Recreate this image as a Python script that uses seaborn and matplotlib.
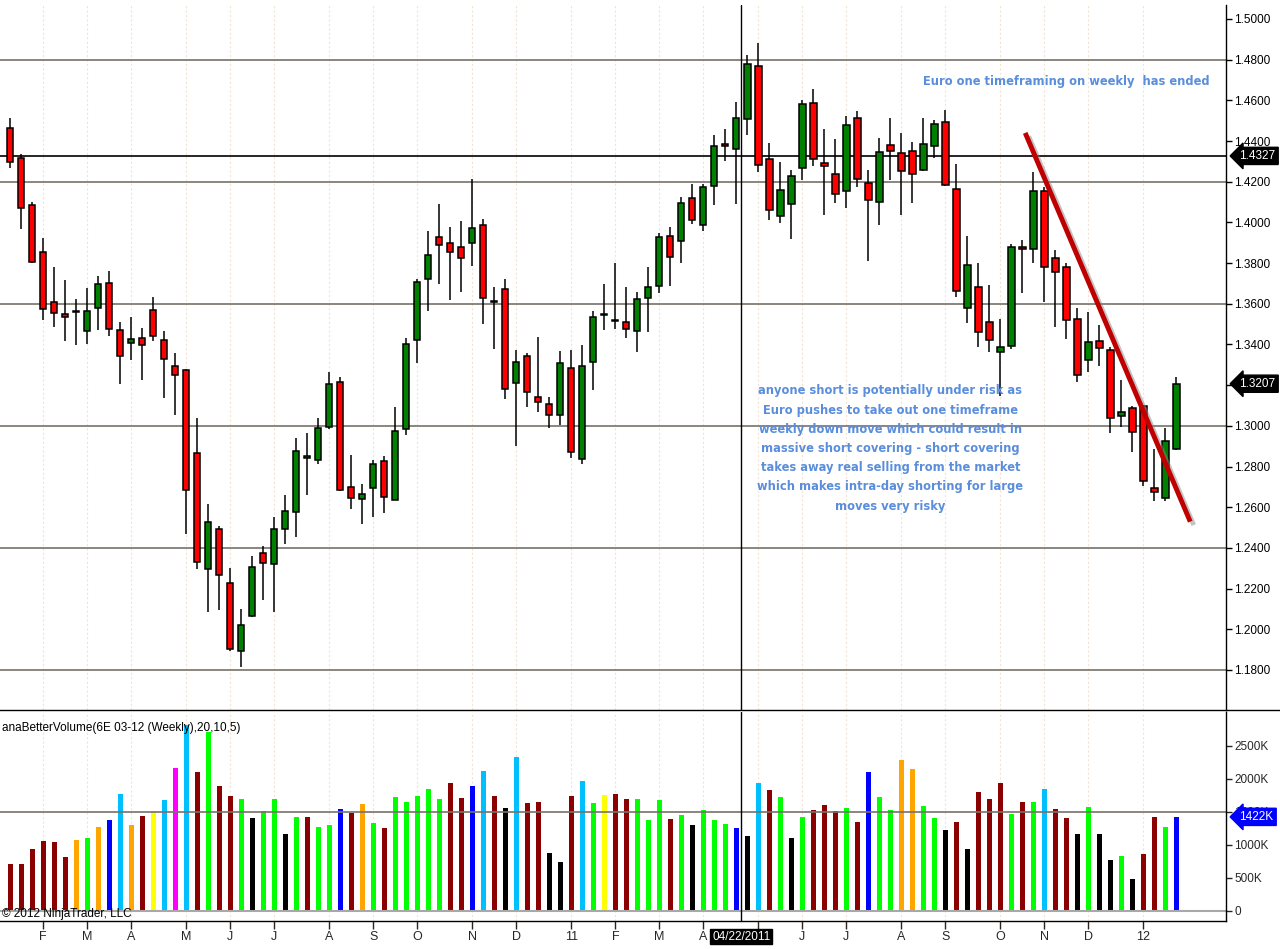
import numpy as np
import pandas as pd
import matplotlib
matplotlib.use('Agg')
import matplotlib.pyplot as plt
import matplotlib.patheffects as pe
import matplotlib.transforms as mtransforms
from matplotlib.lines import Line2D
import seaborn as sns

# weekly 6E bars, Jan 2010 - Jan 2012
opens = [1.4462, 1.4315, 1.4084, 1.3853, 1.3608, 1.3550, 1.3563, 1.3466, 1.3579, 1.3701,
         1.3470, 1.3406, 1.3432, 1.3568, 1.3421, 1.3293, 1.3274, 1.2866, 1.2296, 1.2493,
         1.2226, 1.1891, 1.2063, 1.2373, 1.2319, 1.2491, 1.2576, 1.2842, 1.2830, 1.2993,
         1.3214, 1.2698, 1.2639, 1.2696, 1.2825, 1.2637, 1.2984, 1.3420, 1.3720, 1.3927,
         1.3897, 1.3877, 1.3897, 1.3986, 1.3610, 1.3671, 1.3209, 1.3342, 1.3140, 1.3106,
         1.3052, 1.3283, 1.2835, 1.3312, 1.3545, 1.3516, 1.3509, 1.3465, 1.3627, 1.3686,
         1.3932, 1.3907, 1.4118, 1.3986, 1.4179, 1.4387, 1.4359, 1.4507, 1.4769, 1.4312,
         1.4030, 1.4091, 1.4266, 1.4587, 1.4290, 1.4236, 1.4153, 1.4512, 1.4192, 1.4099,
         1.4379, 1.4340, 1.4349, 1.4256, 1.4374, 1.4492, 1.4163, 1.3578, 1.3681, 1.3509,
         1.3361, 1.3391, 1.3878, 1.3868, 1.4153, 1.3823, 1.3779, 1.3527, 1.3324, 1.3415,
         1.3371, 1.3048, 1.3086, 1.3096, 1.2696, 1.2645, 1.2884]
highs = [1.4515, 1.4335, 1.4099, 1.3924, 1.3782, 1.3717, 1.3624, 1.3679, 1.3737, 1.3762,
         1.3512, 1.3535, 1.3482, 1.3633, 1.3466, 1.3359, 1.3280, 1.3039, 1.2617, 1.2509,
         1.2301, 1.2099, 1.2360, 1.2409, 1.2550, 1.2660, 1.2940, 1.2965, 1.3039, 1.3265,
         1.3238, 1.2857, 1.2714, 1.2832, 1.2852, 1.3093, 1.3430, 1.3722, 1.3958, 1.4090,
         1.3977, 1.4007, 1.4212, 1.4015, 1.3682, 1.3722, 1.3373, 1.3358, 1.3437, 1.3142,
         1.3368, 1.3373, 1.3397, 1.3564, 1.3697, 1.3800, 1.3682, 1.3658, 1.3781, 1.3948,
         1.3977, 1.4125, 1.4189, 1.4189, 1.4428, 1.4459, 1.4592, 1.4825, 1.4882, 1.4389,
         1.4297, 1.4258, 1.4602, 1.4656, 1.4459, 1.4410, 1.4523, 1.4548, 1.4256, 1.4415,
         1.4513, 1.4440, 1.4395, 1.4513, 1.4504, 1.4551, 1.4286, 1.3932, 1.3799, 1.3691,
         1.3524, 1.3892, 1.3912, 1.4250, 1.4176, 1.3864, 1.3799, 1.3578, 1.3558, 1.3494,
         1.3386, 1.3225, 1.3096, 1.3100, 1.2884, 1.2988, 1.3240]
lows = [1.4269, 1.3966, 1.3799, 1.3522, 1.3488, 1.3419, 1.3395, 1.3401, 1.3473, 1.3444,
        1.3204, 1.3326, 1.3223, 1.3415, 1.3139, 1.3055, 1.2467, 1.2294, 1.2083, 1.2096,
        1.1895, 1.1816, 1.2058, 1.2145, 1.2086, 1.2417, 1.2455, 1.2662, 1.2811, 1.2986,
        1.2680, 1.2593, 1.2519, 1.2553, 1.2573, 1.2634, 1.2957, 1.3310, 1.3566, 1.3699,
        1.3620, 1.3659, 1.3787, 1.3502, 1.3379, 1.3134, 1.2902, 1.3094, 1.3070, 1.2991,
        1.3006, 1.2840, 1.2811, 1.3174, 1.3473, 1.3478, 1.3433, 1.3365, 1.3463, 1.3651,
        1.3689, 1.3802, 1.3994, 1.3956, 1.4087, 1.4304, 1.4092, 1.4431, 1.4249, 1.4013,
        1.3996, 1.3920, 1.4210, 1.4279, 1.4038, 1.4094, 1.4069, 1.4176, 1.3812, 1.3989,
        1.4210, 1.4038, 1.4097, 1.4251, 1.4318, 1.4180, 1.3632, 1.3507, 1.3386, 1.3365,
        1.3145, 1.3376, 1.3651, 1.3799, 1.3610, 1.3487, 1.3425, 1.3217, 1.3266, 1.3293,
        1.2963, 1.2993, 1.2870, 1.2703, 1.2629, 1.2629, 1.2880]
closes = [1.4297, 1.4070, 1.3806, 1.3573, 1.3553, 1.3535, 1.3561, 1.3564, 1.3697, 1.3475,
          1.3344, 1.3426, 1.3397, 1.3441, 1.3328, 1.3250, 1.2685, 1.2330, 1.2528, 1.2265,
          1.1905, 1.2019, 1.2304, 1.2324, 1.2491, 1.2580, 1.2875, 1.2850, 1.2988, 1.3204,
          1.2683, 1.2644, 1.2663, 1.2812, 1.2649, 1.2973, 1.3401, 1.3705, 1.3838, 1.3887,
          1.3853, 1.3823, 1.3971, 1.3628, 1.3608, 1.3179, 1.3312, 1.3165, 1.3116, 1.3052,
          1.3307, 1.2870, 1.3292, 1.3533, 1.3547, 1.3514, 1.3474, 1.3622, 1.3681, 1.3927,
          1.3828, 1.4094, 1.4010, 1.4172, 1.4374, 1.4374, 1.4512, 1.4779, 1.4281, 1.4059,
          1.4158, 1.4228, 1.4582, 1.4312, 1.4277, 1.4138, 1.4477, 1.4212, 1.4109, 1.4345,
          1.4349, 1.4251, 1.4236, 1.4384, 1.4482, 1.4182, 1.3661, 1.3789, 1.3460, 1.3420,
          1.3386, 1.3878, 1.3868, 1.4153, 1.3779, 1.3755, 1.3519, 1.3248, 1.3411, 1.3381,
          1.3039, 1.3070, 1.2968, 1.2727, 1.2673, 1.2924, 1.3207]

# volume in thousands and the anaBetterVolume colour class of each bar
volume_k = [707, 707, 934, 1056, 1040, 813, 1071, 1101, 1268, 1374,
            1768, 1298, 1434, 1510, 1677, 2162, 2820, 2101, 2712, 1889,
            1737, 1692, 1404, 1510, 1692, 1162, 1419, 1419, 1268, 1298,
            1540, 1480, 1616, 1328, 1253, 1722, 1646, 1737, 1843, 1692,
            1934, 1707, 1889, 2116, 1737, 1556, 2328, 1631, 1646, 874,
            737, 1737, 1965, 1631, 1753, 1768, 1692, 1692, 1374, 1677,
            1389, 1449, 1298, 1525, 1374, 1313, 1253, 1131, 1934, 1828,
            1722, 1101, 1419, 1525, 1601, 1510, 1556, 1343, 2101, 1722,
            1525, 2283, 2146, 1586, 1404, 1222, 1343, 934, 1798, 1692,
            1934, 1465, 1646, 1646, 1843, 1540, 1404, 1162, 1571, 1162,
            768, 828, 480, 859, 1419, 1268, 1422]
volume_class = list('rrrrrrogobcorycmcrgr'
                    'rgkggkgrggbrogrggggg'
                    'rrbcrkcrrkkrcgyrrggg'
                    'rgkgggbkcrgkgrrrgrbg'
                    'googgkrkrrrgrgcrrkgk'
                    'kgkrrgb')
vol_palette = {'r': '#8B0000', 'g': '#00FF00', 'k': '#000000', 'b': '#0000FF',
               'c': '#00BFFF', 'o': '#FFA500', 'y': '#FFFF00', 'm': '#FF00FF'}

price_grid = [1.48, 1.42, 1.36, 1.30, 1.24, 1.18]
marker_level = 1.4327
cursor_date = '2011-04-22'
trend_x = [92.25, 107.25]
trend_y = [1.4440, 1.2529]

note_top = 'Euro one timeframing on weekly  has ended'
note_main = ('anyone short is potentially under risk as\n'
             'Euro pushes to take out one timeframe\n'
             'weekly down move which could result in\n'
             'massive short covering - short covering\n'
             'takes away real selling from the market\n'
             'which makes intra-day shorting for large\n'
             'moves very risky')

print(len(opens), len(highs), len(lows), len(closes), len(volume_k), len(volume_class))

weeks = pd.date_range('2010-01-15', periods=len(closes), freq='W-FRI')
df = pd.DataFrame({'week': np.arange(len(closes)), 'open': opens, 'high': highs,
                   'low': lows, 'close': closes, 'vol': volume_k, 'cls': volume_class})

month_pos = [i for i in range(1, len(weeks)) if weeks[i].month != weeks[i - 1].month]
month_lab = [(weeks[i].strftime('%y') if weeks[i].month == 1 else weeks[i].strftime('%b')[0])
             for i in month_pos]

sns.set_style('white')
plt.rcParams['font.family'] = ['Liberation Sans', 'DejaVu Sans']

W, H = 1280, 949
fig = plt.figure(figsize=(12.8, 9.49), dpi=100)
ax = fig.add_axes([0, 1 - 710 / H, 1226 / W, 705 / H])
axv = fig.add_axes([0, 1 - 921 / H, 1226 / W, 209 / H])

xlim = (-0.936, 110.5)

# price panel
for p in month_pos:
    ax.axvline(p, color='#F1E4D6', lw=0.8, ls=(0, (2, 2)), zorder=0)
    axv.axvline(p, color='#F1E4D6', lw=0.8, ls=(0, (2, 2)), zorder=0)
for lv in price_grid:
    ax.axhline(lv, color='#77716A', lw=1.2, zorder=1)
ax.axhline(marker_level, color='black', lw=1.2, zorder=1)

up = df['close'] >= df['open']
body_bottom = df[['open', 'close']].min(axis=1)
body_h = (df['close'] - df['open']).abs().clip(lower=0.0004)
ax.vlines(df['week'], df['low'], df['high'], color='black', lw=1.1, zorder=3)
ax.bar(df['week'], body_h, bottom=body_bottom, width=0.56,
       color=np.where(up, '#008000', '#FF0000'), edgecolor='black', linewidth=1.1, zorder=4)

ax.plot(trend_x, trend_y, color='#C00000', lw=3.5, solid_capstyle='butt', zorder=6,
        path_effects=[pe.SimpleLineShadow(offset=(2.5, -2.5), shadow_color='#888888', alpha=0.5),
                      pe.Normal()])

note_font = dict(family=['DejaVu Sans'], fontweight='bold', color='#5A8EDC', fontsize=8.3)
ax.text(96.0, 1.4695, note_top, ha='center', va='center', zorder=7, **note_font)
ax.text(80.0, 1.2889, note_main, ha='center', va='center', linespacing=1.62, zorder=7, **note_font)

ax.set_xlim(*xlim)
ax.set_ylim(1.1603, 1.50688)
ax.yaxis.tick_right()
ax.set_yticks(np.arange(1.18, 1.5001, 0.02))
ax.set_yticklabels(['%.4f' % v for v in np.arange(1.18, 1.5001, 0.02)])
ax.tick_params(axis='y', direction='out', length=4, width=1, labelsize=8.5, pad=2,
               colors='black', right=True)
ax.tick_params(axis='x', bottom=False, labelbottom=False)
for s in ['left', 'top']:
    ax.spines[s].set_visible(False)
for s in ['right', 'bottom']:
    ax.spines[s].set_color('black')
    ax.spines[s].set_linewidth(1)

ytf = mtransforms.blended_transform_factory(ax.transAxes, ax.transData)
for val in [marker_level, closes[-1]]:
    ax.text(1.011, val, '%.4f' % val, transform=ytf, ha='left', va='center', color='white',
            fontsize=8.5, clip_on=False, zorder=10,
            bbox=dict(boxstyle='larrow,pad=0.22', fc='black', ec='black'))

# volume panel
sns.barplot(data=df, x='week', y='vol', hue='cls', palette=vol_palette, native_scale=True,
            width=0.43, errorbar=None, legend=False, saturation=1, linewidth=0,
            orient='x', ax=axv)
axv.axhline(0, color='#A8A8A8', lw=1.5, zorder=1)
axv.axhline(1500, color='#77716A', lw=1.2, zorder=1)
axv.set_xlim(*xlim)
axv.set_ylim(-156, 3011)
axv.set_xlabel('')
axv.set_ylabel('')
axv.yaxis.tick_right()
axv.set_yticks([0, 500, 1000, 1500, 2000, 2500])
axv.set_yticklabels(['0', '500K', '1000K', '1500K', '2000K', '2500K'])
axv.tick_params(axis='y', direction='out', length=4, width=1, labelsize=8.5, pad=2, right=True)
axv.set_xticks(month_pos)
axv.set_xticklabels(month_lab)
axv.tick_params(axis='x', direction='out', length=6, width=1, labelsize=9, pad=1, bottom=True)
for s in ['left', 'top']:
    axv.spines[s].set_visible(False)
for s in ['right', 'bottom']:
    axv.spines[s].set_color('black')
    axv.spines[s].set_linewidth(1)

vtf = mtransforms.blended_transform_factory(axv.transAxes, axv.transData)
axv.text(1.011, volume_k[-1], '%dK' % volume_k[-1], transform=vtf, ha='left', va='center',
         color='white', fontsize=8.5, clip_on=False, zorder=10,
         bbox=dict(boxstyle='larrow,pad=0.22', fc='#0000FF', ec='#0000FF'))

axv.text(0.002, 0.925, 'anaBetterVolume(6E 03-12 (Weekly),20,10,5)', transform=axv.transAxes,
         ha='left', va='center', fontsize=8.5, color='black')
axv.text(0.002, 0.005, '\u00a9 2012 NinjaTrader, LLC', transform=axv.transAxes,
         ha='left', va='bottom', fontsize=8.5, color='black')

# cursor line and its date tag
cur = int(np.where(weeks == pd.Timestamp(cursor_date))[0][0]) + 0.45
ax.axvline(cur, color='black', lw=1, zorder=5)
axv.axvline(cur, color='black', lw=1, zorder=5)
xtf = mtransforms.blended_transform_factory(axv.transData, axv.transAxes)
axv.text(cur, -0.075, pd.Timestamp(cursor_date).strftime('%m/%d/%Y'), transform=xtf,
         ha='center', va='center', color='white', fontsize=8.5, clip_on=False, zorder=10,
         bbox=dict(boxstyle='square,pad=0.15', fc='black', ec='black'))

fig.add_artist(Line2D([1226 / W, 1], [1 - 710 / H, 1 - 710 / H], color='black', lw=1,
                      transform=fig.transFigure))

fig.savefig('out.png', dpi=100)
